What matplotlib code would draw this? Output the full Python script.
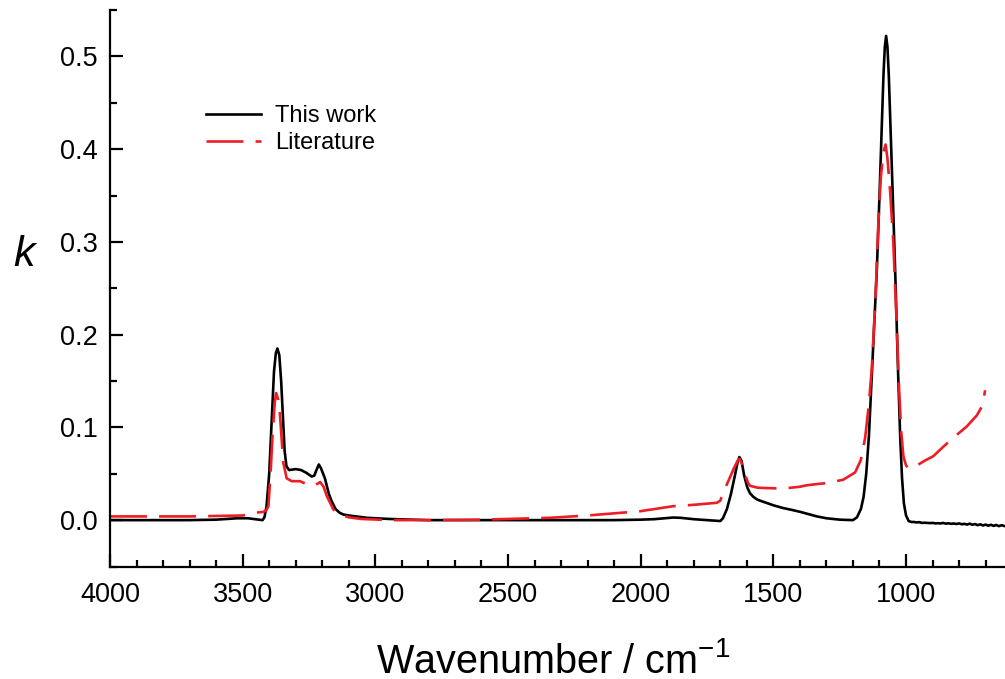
import matplotlib
matplotlib.use("Agg")
import matplotlib.pyplot as plt
from matplotlib.ticker import MultipleLocator, FormatStrFormatter

plt.rcParams['font.family'] = ['Liberation Sans', 'DejaVu Sans']
plt.rcParams['mathtext.fontset'] = 'custom'
plt.rcParams['mathtext.rm'] = 'Liberation Sans'
plt.rcParams['mathtext.it'] = 'Liberation Sans:italic'

# ---- data: "This work" (black) ----
work_wn = [4000, 3800, 3700, 3600, 3520, 3480, 3440, 3425, 3418, 3410, 3400, 3390,
           3382, 3375, 3369, 3362, 3355, 3348, 3342, 3335, 3325, 3300, 3280, 3260,
           3240, 3230, 3222, 3213, 3205, 3190, 3175, 3164, 3150, 3135, 3120, 3100,
           3032, 2950, 2900, 2800, 2600, 2342, 2100, 2000, 1950, 1900, 1878, 1850,
           1800, 1750, 1700, 1690, 1675, 1660, 1645, 1635, 1628, 1620, 1610, 1598,
           1588, 1575, 1560, 1530, 1500, 1463, 1430, 1400, 1374, 1336, 1300, 1250,
           1200, 1185, 1170, 1160, 1150, 1140, 1130, 1120, 1110, 1100, 1092, 1085,
           1080, 1075, 1070, 1065, 1058, 1050, 1040, 1030, 1022, 1015, 1008, 1000,
           990, 980, 970, 960, 950, 940, 930, 920, 910, 900, 890, 880, 870, 860,
           850, 840, 830, 820, 810, 800, 790, 780, 770, 760, 750, 740, 730, 720,
           710, 700, 690, 680, 670, 660, 650, 640, 630]
work_k = [0.0, 0.0, 0.0, 0.0005, 0.002, 0.002, 0.0005, 0.0, 0.003, 0.015, 0.05, 0.11,
          0.16, 0.18, 0.185, 0.178, 0.15, 0.11, 0.075, 0.058, 0.054, 0.055, 0.054, 0.051,
          0.047, 0.048, 0.054, 0.06, 0.056, 0.045, 0.028, 0.02, 0.012, 0.008, 0.006, 0.005,
          0.0025, 0.0013, 0.0008, 0.0, 0.0, 0.0, 0.0, 0.0005, 0.001, 0.0022, 0.0028, 0.0025,
          0.001, 0.0, -0.001, 0.002, 0.012, 0.028, 0.048, 0.062, 0.068, 0.064, 0.048, 0.035,
          0.029, 0.025, 0.022, 0.019, 0.016, 0.013, 0.011, 0.009, 0.007, 0.004, 0.002, 0.0005,
          0.0, 0.003, 0.012, 0.025, 0.05, 0.09, 0.15, 0.21, 0.27, 0.35, 0.42, 0.48,
          0.51, 0.522, 0.51, 0.48, 0.42, 0.35, 0.26, 0.16, 0.09, 0.045, 0.018, 0.005,
          -0.001, -0.002, -0.002, -0.0025, -0.0022, -0.003, -0.0028, -0.003, -0.0032, -0.003,
          -0.0035, -0.0033, -0.0036, -0.003, -0.0038, -0.0034, -0.004, -0.0036, -0.0042,
          -0.0035, -0.0045, -0.004, -0.0048, -0.0038, -0.005, -0.0042, -0.0055, -0.0045,
          -0.0058, -0.0048, -0.006, -0.005, -0.0062, -0.0052, -0.0065, -0.0055, -0.0063]

# ---- data: "Literature" (red dashed) ----
lit_wn = [4000, 3700, 3500, 3450, 3420, 3410, 3403, 3394, 3387, 3379, 3374, 3366,
          3359, 3347, 3334, 3315, 3284, 3246, 3225, 3208, 3195, 3183, 3158, 3133,
          3100, 3055, 2945, 2800, 2600, 2342, 2200, 2002, 1878, 1800, 1713, 1700,
          1689, 1670, 1650, 1635, 1628, 1620, 1608, 1595, 1588, 1560, 1520, 1463,
          1400, 1374, 1300, 1237, 1192, 1170, 1154, 1140, 1129, 1115, 1104, 1095,
          1085, 1077, 1070, 1060, 1048, 1035, 1026, 1018, 1010, 1000, 991, 975,
          959, 930, 897, 860, 821, 771, 733, 715, 708, 702]
lit_k = [0.004, 0.004, 0.005, 0.008, 0.009, 0.011, 0.015, 0.055, 0.094, 0.127, 0.137, 0.13,
         0.112, 0.062, 0.045, 0.042, 0.042, 0.037, 0.038, 0.041, 0.036, 0.026, 0.0114, 0.006,
         0.003, 0.0013, 0.0, 0.0, 0.0005, 0.0025, 0.005, 0.0096, 0.015, 0.0165, 0.0187, 0.021,
         0.0297, 0.042, 0.055, 0.064, 0.066, 0.062, 0.05, 0.04, 0.037, 0.035, 0.0345, 0.034,
         0.036, 0.0376, 0.04, 0.0435, 0.0514, 0.065, 0.089, 0.125, 0.164, 0.24, 0.322, 0.37,
         0.397, 0.405, 0.39, 0.355, 0.30, 0.21, 0.14, 0.095, 0.069, 0.059, 0.056, 0.0565,
         0.059, 0.064, 0.069, 0.079, 0.089, 0.101, 0.113, 0.122, 0.13, 0.14]

fig = plt.figure(figsize=(10.05, 6.79), dpi=100)
ax = fig.add_axes([110 / 1005, 1 - 566.5 / 679, 1 - 110 / 1005, (566.5 - 10) / 679])

ax.plot(work_wn, work_k, color='black', lw=1.9, label='This work')
ax.plot(lit_wn, lit_k, color='#ee1c25', lw=1.9, dashes=(14, 4.6), label='Literature')

ax.set_xlim(4000, 627)
ax.set_ylim(-0.05, 0.55)

for s in ['top', 'right']:
    ax.spines[s].set_visible(False)
for s in ['left', 'bottom']:
    ax.spines[s].set_linewidth(1.6)

ax.xaxis.set_major_locator(MultipleLocator(500))
ax.xaxis.set_minor_locator(MultipleLocator(100))
ax.yaxis.set_major_locator(MultipleLocator(0.1))
ax.yaxis.set_minor_locator(MultipleLocator(0.05))
ax.yaxis.set_major_formatter(FormatStrFormatter('%.1f'))

ax.tick_params(which='both', direction='in', width=1.6, labelsize=19.5)
ax.tick_params(which='major', length=9.5)
ax.tick_params(which='minor', length=5)
ax.tick_params(axis='x', which='major', pad=11)
ax.tick_params(axis='y', which='major', pad=9)

fig.text(553.5 / 1005, 1 - 673 / 679, 'Wavenumber / cm$^{-1}$', fontsize=28.5,
         ha='center', va='baseline')
fig.text(24 / 1005, 1 - 255 / 679, 'k', fontsize=31, style='italic',
         ha='center', va='center')

ax.legend(loc='upper left', bbox_to_anchor=(206 / 1005, 1 - 105 / 679),
          bbox_transform=fig.transFigure, frameon=False, fontsize=17,
          borderpad=0, borderaxespad=0, handlelength=2.33, handletextpad=0.59,
          labelspacing=0.22)

fig.savefig('out.png', dpi=100)
